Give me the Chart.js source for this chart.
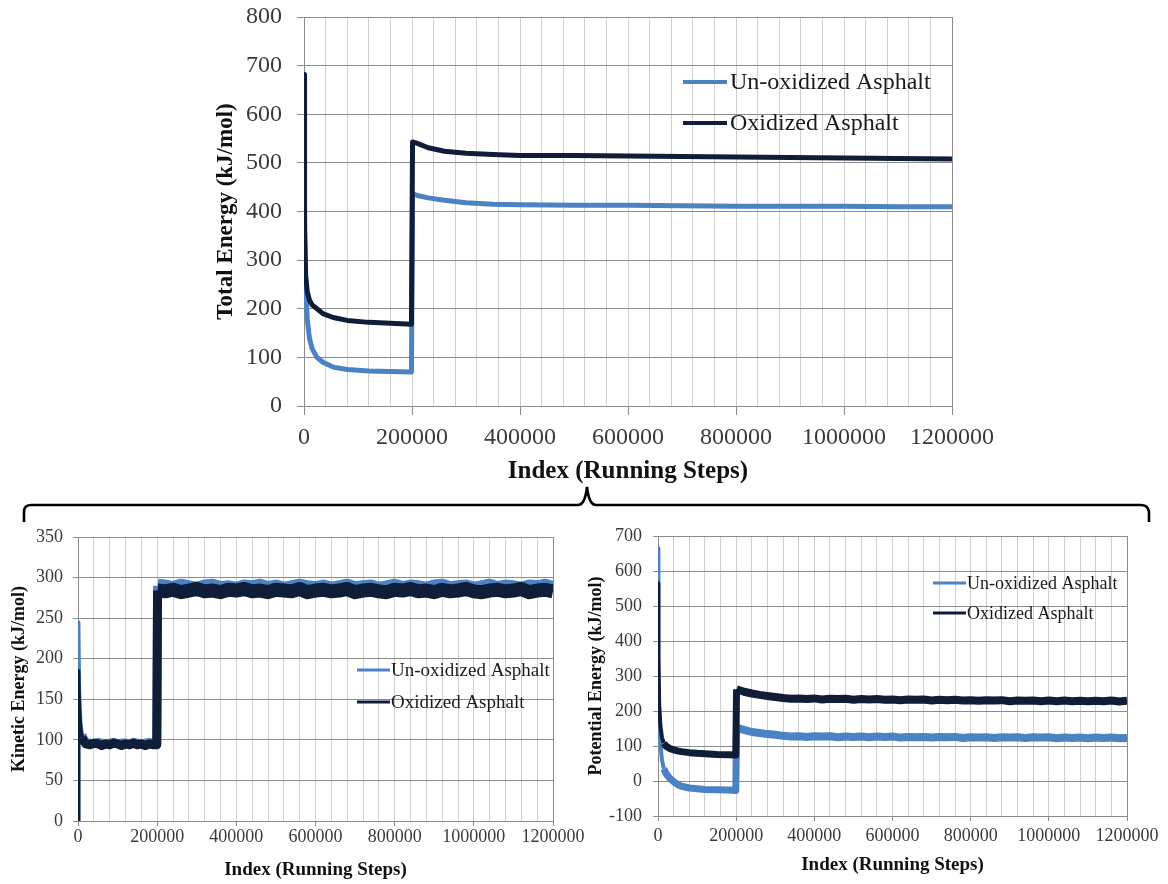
<!DOCTYPE html>
<html><head><meta charset="utf-8">
<script src="https://cdn.jsdelivr.net/npm/chart.js@4.4.1/dist/chart.umd.min.js"></script>
<style>
html,body{margin:0;padding:0;background:#fff;width:1168px;height:884px;overflow:hidden}
body{position:relative}
.box{position:absolute}
svg{position:absolute;left:0;top:0;pointer-events:none}
</style></head><body>
<div class="box" style="left:200px;top:0;width:800px;height:490px"><canvas id="cTop"></canvas></div>
<div class="box" style="left:0;top:525px;width:590px;height:360px"><canvas id="cKin"></canvas></div>
<div class="box" style="left:585px;top:525px;width:583px;height:360px"><canvas id="cPot"></canvas></div>
<svg width="1168" height="884"><path d="M24 522 L24 512 Q24 505 31 505 L578 505 Q585 505 587 487 Q589 505 596 505 L1141 505 Q1148 505 1149 512 L1149 522" fill="none" stroke="#000" stroke-width="2.6"/></svg>
<script>
const FONT = "'Liberation Serif', 'Times New Roman', serif";
const BLUE = '#4a82c3';
const DARK = '#0f1d38';

const seriesNames = ['Un-oxidized Asphalt', 'Oxidized Asphalt'];
const xTitle = 'Index (Running Steps)';
const xTickLabelStep = 200000;
const xGridStep = 40000;

// ---- Total energy ----
const totSteps = [0, 1000, 3000, 6000, 10000, 15000, 24000, 35000, 54000, 80000, 120000, 160000, 199000, 201000, 210000, 230000, 260000, 300000, 350000, 400000, 500000, 600000, 700000, 800000, 900000, 1000000, 1100000, 1200000];
const totUnox = [670, 400, 250, 180, 140, 118, 100, 90, 80, 75, 72, 71, 70, 437, 433, 428, 423, 418, 415, 414, 413, 413, 412, 411, 411, 411, 410, 410];
const totOx   = [682, 360, 270, 235, 218, 208, 200, 190, 182, 176, 172, 170, 168, 543, 540, 531, 524, 520, 517, 515, 515, 514, 513, 512, 511, 510, 509, 508];

// ---- Kinetic energy ----
const kinSteps = [0, 1000, 3000, 6000, 10000, 15000,
  20000, 30000, 40000, 50000, 60000, 70000, 80000, 90000, 100000, 110000, 120000, 130000, 140000, 150000, 160000, 170000, 180000, 190000,
  199000, 201000,
  220000, 240000, 260000, 280000, 300000, 320000, 340000, 360000, 380000, 400000,
  420000, 440000, 460000, 480000, 500000, 520000, 540000, 560000, 580000, 600000,
  620000, 640000, 660000, 680000, 700000, 720000, 740000, 760000, 780000, 800000,
  820000, 840000, 860000, 880000, 900000, 920000, 940000, 960000, 980000, 1000000,
  1020000, 1040000, 1060000, 1080000, 1100000, 1120000, 1140000, 1160000, 1180000, 1200000];
const kinUnox = [0, 245, 160, 122, 106, 100,
  97, 96, 95, 97, 96, 95, 96, 97, 95, 96, 96, 95, 97, 96, 95, 96, 97, 96,
  95, 290,
  289, 287, 290, 288, 286, 289, 290, 287, 288, 286,
  289, 288, 290, 287, 289, 286, 288, 290, 288, 287,
  289, 286, 288, 290, 287, 288, 289, 286, 288, 290,
  287, 289, 288, 286, 289, 290, 287, 288, 289, 286,
  288, 290, 287, 289, 288, 286, 289, 288, 290, 287];
const kinOx = [0, 185, 140, 115, 103, 98,
  95, 94, 96, 95, 93, 95, 94, 96, 95, 93, 95, 94, 96, 94, 95, 93, 95, 94,
  94, 284,
  283, 285, 282, 284, 286, 283, 284, 282, 285, 284,
  286, 283, 284, 282, 285, 284, 283, 286, 282, 284,
  285, 283, 284, 286, 282, 284, 285, 283, 282, 285,
  284, 286, 283, 284, 282, 285, 283, 284, 286, 283,
  282, 284, 285, 283, 284, 286, 282, 284, 285, 283];

// ---- Potential energy ----
const potSteps = [0, 1000, 3000, 6000, 10000, 15000, 20000, 30000, 40000, 50000, 60000, 80000, 100000, 120000, 150000, 180000, 199000, 201000, 220000, 240000, 260000, 280000, 300000,
  320000, 340000, 360000, 380000, 400000, 420000, 440000, 460000, 480000, 500000,
  520000, 540000, 560000, 580000, 600000, 620000, 640000, 660000, 680000, 700000,
  720000, 740000, 760000, 780000, 800000, 820000, 840000, 860000, 880000, 900000,
  920000, 940000, 960000, 980000, 1000000, 1020000, 1040000, 1060000, 1080000, 1100000,
  1120000, 1140000, 1160000, 1180000, 1200000];
const potUnox = [665, 350, 180, 110, 60, 35, 22, 8, -2, -10, -15, -20, -22, -24, -25, -26, -27, 152, 146, 140, 137, 134, 132,
  129, 127, 128, 126, 128, 127, 128, 125, 127, 126,
  127, 125, 127, 126, 127, 124, 126, 125, 126, 124,
  126, 125, 126, 123, 125, 124, 125, 123, 125, 124,
  125, 123, 125, 124, 125, 122, 124, 123, 124, 122,
  124, 123, 124, 122, 123];
const potOx = [565, 350, 220, 160, 125, 108, 100, 93, 89, 86, 84, 81, 79, 78, 76, 75, 74, 262, 255, 250, 246, 243, 240,
  237, 235, 236, 234, 236, 233, 235, 234, 235, 232,
  234, 233, 234, 232, 233, 231, 233, 232, 233, 230,
  232, 231, 232, 230, 231, 229, 231, 230, 231, 228,
  230, 229, 230, 228, 230, 228, 230, 228, 229, 228,
  229, 228, 230, 227, 229];

function pts(xs, ys) { return xs.map((x, i) => ({ x: x, y: ys[i] })); }

function makeChart(id, o) {
  const legendPlugin = {
    id: 'floatLegend_' + id,
    afterDraw(chart) {
      const ctx = chart.ctx;
      ctx.save();
      const L = o.legend;
      [BLUE, DARK].forEach((col, i) => {
        const y = L.y[i];
        ctx.strokeStyle = col;
        ctx.lineWidth = L.lw;
        ctx.beginPath(); ctx.moveTo(L.x1, y); ctx.lineTo(L.x2, y); ctx.stroke();
        ctx.fillStyle = '#1a1a1a';
        ctx.font = L.size + 'px ' + FONT;
        ctx.textBaseline = 'middle';
        ctx.textAlign = 'left';
        ctx.fillText(seriesNames[i], L.tx, y + 1);
      });
      ctx.restore();
    }
  };
  const segWidth = c => {
    const x0 = c.p0.parsed.x;
    if (x0 < o.thinUntil) return o.lwThin;
    if (x0 >= 200500) return o.lwHigh;
    return o.lwLow;
  };
  return new Chart(document.getElementById(id), {
    type: 'line',
    data: {
      datasets: [
        { label: seriesNames[0], data: pts(o.steps, o.unox), borderColor: BLUE, backgroundColor: BLUE, borderWidth: o.lwLow, segment: { borderWidth: segWidth }, order: 1 },
        { label: seriesNames[1], data: pts(o.steps, o.ox), borderColor: DARK, backgroundColor: DARK, borderWidth: o.lwLow, segment: { borderWidth: segWidth }, order: 0 }
      ]
    },
    plugins: [legendPlugin],
    options: {
      responsive: true,
      maintainAspectRatio: false,
      animation: false,
      events: [],
      elements: { point: { radius: 0 }, line: { tension: 0, fill: false, borderJoinStyle: 'round' } },
      layout: { padding: { top: o.padT, right: o.padR, left: 0, bottom: 0 } },
      plugins: { legend: { display: false }, tooltip: { enabled: false } },
      scales: {
        x: {
          type: 'linear', min: 0, max: 1200000,
          ticks: {
            stepSize: xGridStep, autoSkip: false, maxRotation: 0, minRotation: 0,
            padding: o.xPad, color: '#3a3a3a', font: { family: FONT, size: o.tickSize },
            callback: v => (v % xTickLabelStep === 0 ? String(v) : '')
          },
          grid: {
            color: c => (c.tick && c.tick.value === 1200000 ? '#8a8a8a' : '#cfcfcf'),
            lineWidth: 1,
            tickLength: o.xTick,
            tickBorderDash: o.xTickDash,
            tickColor: c => (c.tick && c.tick.value % xTickLabelStep === 0 ? '#8a8a8a' : 'rgba(0,0,0,0)')
          },
          border: { color: '#8a8a8a' },
          title: { display: true, text: xTitle, color: '#111', font: { family: FONT, size: o.xTitleSize, weight: 'bold' }, padding: { top: 0, bottom: o.xTitlePad } },
          afterFit: s => { s.height = o.xH; }
        },
        y: {
          min: o.yMin, max: o.yMax,
          ticks: { stepSize: o.yStep, padding: o.yPad, color: '#3a3a3a', font: { family: FONT, size: o.tickSize } },
          grid: { color: '#8c8c8c', lineWidth: 1, tickLength: o.yTick, tickBorderDash: o.yTickDash, tickColor: '#8c8c8c' },
          border: { color: '#8a8a8a' },
          title: { display: true, text: o.yTitle, color: '#111', font: { family: FONT, size: o.yTitleSize, weight: 'bold' }, padding: { top: o.yTitlePad, bottom: 0 } },
          afterFit: s => { s.width = o.yW; }
        }
      }
    }
  });
}

makeChart('cTop', {
  steps: totSteps, unox: totUnox, ox: totOx, lwLow: 5, lwHigh: 5, lwThin: 5, thinUntil: 0,
  yMin: 0, yMax: 800, yStep: 100, yTitle: 'Total Energy (kJ/mol)',
  padT: 17, padR: 48, yW: 104, xH: 84,
  tickSize: 24, xPad: 1, xTick: 16, xTickDash: [8, 100], yPad: 2, yTick: 20, yTickDash: [0, 13, 7, 100],
  xTitleSize: 25, xTitlePad: 3, yTitleSize: 23, yTitlePad: 12,
  legend: { x1: 483, x2: 527, tx: 530, y: [82, 123], lw: 4, size: 24 }
});

makeChart('cKin', {
  steps: kinSteps, unox: kinUnox, ox: kinOx, lwLow: 9, lwHigh: 14, lwThin: 4, thinUntil: 10000,
  yMin: 0, yMax: 350, yStep: 50, yTitle: 'Kinetic Energy (kJ/mol)',
  padT: 12, padR: 37, yW: 78, xH: 64,
  tickSize: 18, xPad: 0, xTick: 5, xTickDash: [5, 100], yPad: 1, yTick: 14, yTickDash: [0, 9, 5, 100],
  xTitleSize: 19, xTitlePad: 4, yTitleSize: 18, yTitlePad: 9,
  legend: { x1: 357, x2: 390, tx: 391, y: [145, 177], lw: 3, size: 19 }
});

makeChart('cPot', {
  steps: potSteps, unox: potUnox, ox: potOx, lwLow: 7, lwHigh: 8, lwThin: 4, thinUntil: 15000,
  yMin: -100, yMax: 700, yStep: 100, yTitle: 'Potential Energy (kJ/mol)',
  padT: 11, padR: 41, yW: 73, xH: 69,
  tickSize: 18, xPad: 4, xTick: 5, xTickDash: [5, 100], yPad: 0, yTick: 16, yTickDash: [0, 11, 5, 100],
  xTitleSize: 19, xTitlePad: 9, yTitleSize: 18, yTitlePad: 1,
  legend: { x1: 348, x2: 381, tx: 382, y: [58, 88], lw: 3, size: 18 }
});
</script>
</body></html>
